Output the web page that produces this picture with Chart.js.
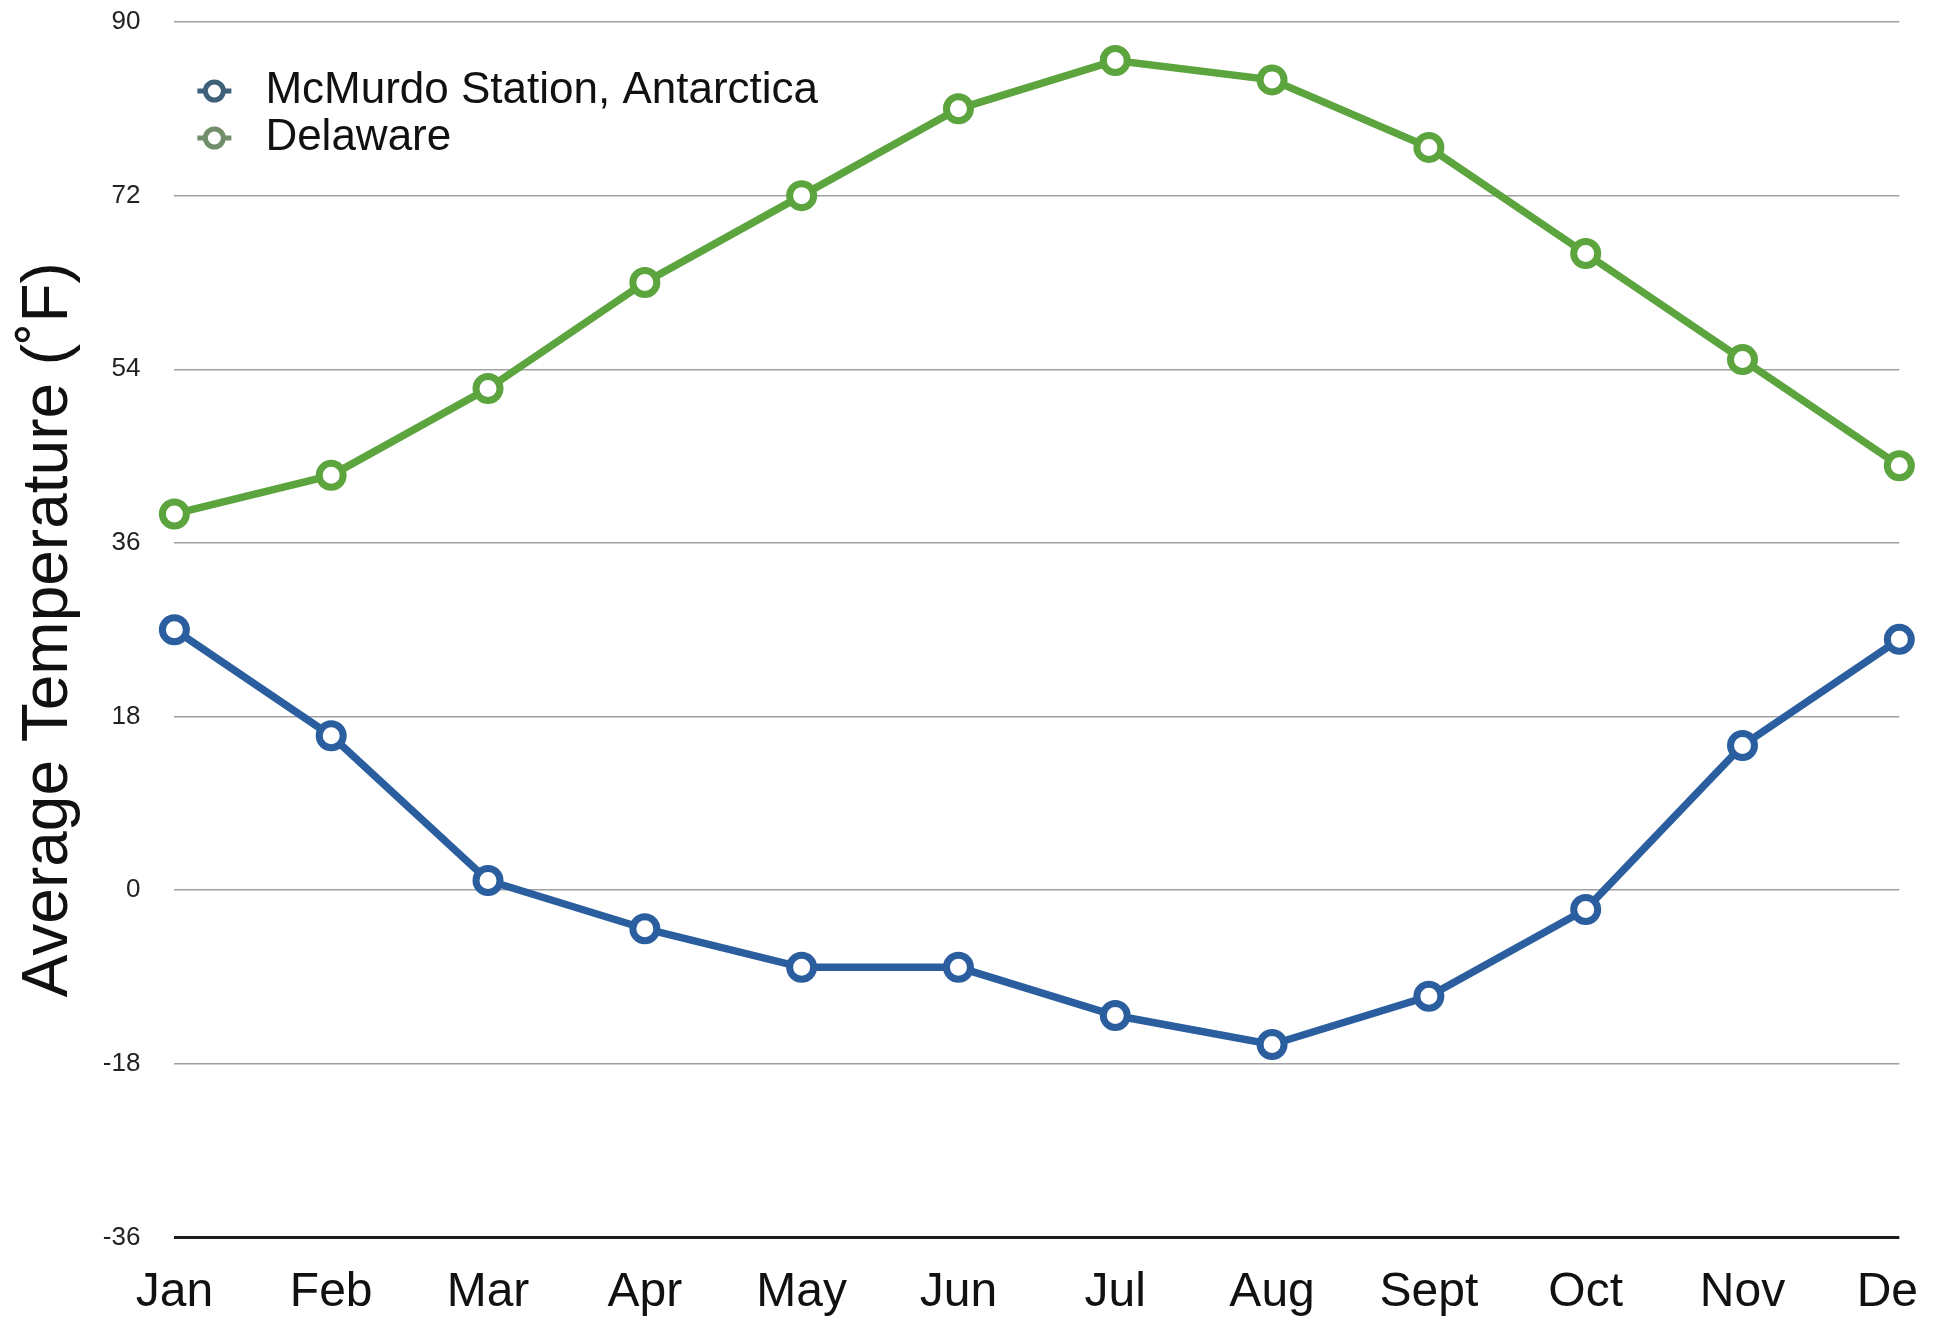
<!DOCTYPE html>
<html>
<head>
<meta charset="utf-8">
<title>Average Temperature</title>
<script src="https://cdn.jsdelivr.net/npm/chart.js@4.4.1/dist/chart.umd.min.js"></script>
<style>
    html, body { margin: 0; padding: 0; background: #ffffff; }
    body { width: 1942px; height: 1322px; overflow: hidden; position: relative; }
    .chart-clip { position: absolute; left: 0; top: 0; width: 1916px; height: 1322px; overflow: hidden; }
    #tempChart { display: block; }
</style>
</head>
<body>
<div class="chart-clip">
    <canvas id="tempChart" width="1942" height="1322" style="width:1942px;height:1322px"></canvas>
</div>
<script>
// --- DATA ---
const months = ['Jan', 'Feb', 'Mar', 'Apr', 'May', 'Jun', 'Jul', 'Aug', 'Sept', 'Oct', 'Nov', 'Dec'];
const mcmurdoTemps = [27, 16, 1, -4, -8, -8, -13, -16, -11, -2, 15, 26];
const delawareTemps = [39, 43, 52, 63, 72, 81, 86, 84, 77, 66, 55, 44];
const seriesNames = ['McMurdo Station, Antarctica', 'Delaware'];
const yTicks = [-36, -18, 0, 18, 36, 54, 72, 90];

document.addEventListener("DOMContentLoaded", function() {

    const fontFamily = '"Liberation Sans", Arial, Helvetica, sans-serif';
    const blue = '#2a5e9e';
    const green = '#5ca43e';
    const legendColors = ['#3e6079', '#728f6c'];

    // legend drawn inside the plot, top-left
    const insideLegend = {
        id: 'insideLegend',
        afterDraw(chart) {
            const ctx = chart.ctx;
            const area = chart.chartArea;
            ctx.save();
            chart.data.datasets.forEach((ds, i) => {
                const cy = area.top + 69 + i * 47;
                const cx = area.left + 40;
                ctx.strokeStyle = legendColors[i];
                ctx.lineWidth = 5;
                ctx.beginPath();
                ctx.moveTo(cx - 17, cy);
                ctx.lineTo(cx + 17, cy);
                ctx.stroke();
                ctx.beginPath();
                ctx.arc(cx, cy, 9, 0, Math.PI * 2);
                ctx.fillStyle = '#ffffff';
                ctx.fill();
                ctx.stroke();

                ctx.fillStyle = '#111111';
                ctx.font = '44px ' + fontFamily;
                ctx.textBaseline = 'middle';
                ctx.textAlign = 'left';
                ctx.fillText(ds.label, area.left + 91, cy);
            });
            ctx.restore();
        }
    };

    function lineDataset(label, values, color) {
        return {
            label: label,
            data: values,
            borderColor: color,
            backgroundColor: color,
            borderWidth: 7.5,
            tension: 0,
            pointRadius: 12,
            pointHoverRadius: 12,
            pointBorderWidth: 7,
            pointBorderColor: color,
            pointBackgroundColor: '#ffffff',
            clip: false
        };
    }

    const ctx = document.getElementById('tempChart').getContext('2d');
    new Chart(ctx, {
        type: 'line',
        data: {
            labels: months,
            datasets: [
                lineDataset(seriesNames[0], mcmurdoTemps, blue),
                lineDataset(seriesNames[1], delawareTemps, green)
            ]
        },
        options: {
            responsive: false,
            animation: false,
            devicePixelRatio: 1,
            layout: { padding: { top: 22, left: 0, right: 0, bottom: 0 } },
            plugins: {
                legend: { display: false },
                tooltip: { enabled: false }
            },
            scales: {
                x: {
                    offset: false,
                    // invisible tick marks give the gap under the axis
                    grid: { display: true, drawOnChartArea: false, drawTicks: true, tickLength: 27, tickColor: 'rgba(0,0,0,0)' },
                    border: { display: false },
                    ticks: {
                        color: '#111111',
                        padding: 0,
                        maxRotation: 0,
                        autoSkip: false,
                        font: { family: fontFamily, size: 48 }
                    }
                },
                y: {
                    min: yTicks[0],
                    max: yTicks[yTicks.length - 1],
                    afterBuildTicks: (scale) => {
                        scale.ticks = yTicks.map(v => ({ value: v }));
                    },
                    grid: {
                        drawTicks: true,
                        tickLength: 34,
                        tickColor: 'rgba(0,0,0,0)',
                        color: (c) => c.tick && c.tick.value === yTicks[0] ? '#1c1c1c' : '#a0a0a0',
                        lineWidth: (c) => c.tick && c.tick.value === yTicks[0] ? 3 : 1.5
                    },
                    border: { display: false },
                    ticks: {
                        color: '#222222',
                        padding: 0,
                        font: { family: fontFamily, size: 26 }
                    },
                    title: {
                        display: true,
                        text: 'Average Temperature (˚F)',
                        color: '#111111',
                        padding: { top: 11, bottom: 15 },
                        font: { family: fontFamily, size: 64 }
                    }
                }
            }
        },
        plugins: [insideLegend]
    });
});
</script>
</body>
</html>
